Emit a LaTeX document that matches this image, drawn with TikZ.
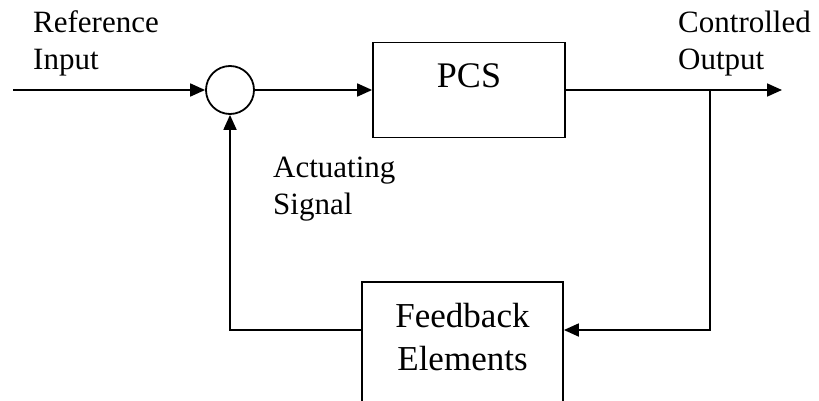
\documentclass[tikz,border=0pt]{standalone}
\usepackage{fontspec}
\setmainfont{Liberation Serif}
\usetikzlibrary{arrows.meta}
\tikzset{
  line/.style={line width=1.8pt},
  arr/.style={line, -{Triangle[length=15pt,width=13pt]}},
  blockbox/.style={draw, line width=1.8pt, rectangle, inner sep=0pt},
  lbl/.style={inner sep=0pt, anchor=base west, font=\fontsize{31}{37}\selectfont},
}
\begin{document}
\begin{tikzpicture}[x=1pt,y=-1pt]
\useasboundingbox (0,0) rectangle (819,401);
% nodes
\node[draw, circle, line width=1.8pt, minimum size=48pt, inner sep=0pt] (sum) at (230,90) {};
\node[blockbox, minimum width=192pt, minimum height=95pt, text height=25pt, text depth=30pt,
      font=\fontsize{36}{43}\selectfont] (pcs) at (469,90) {PCS};
\node[blockbox, minimum width=201pt, minimum height=124pt, text height=30pt, text depth=64pt,
      font=\fontsize{35}{43}\selectfont]
      (fb) at (462.5,344) {\begin{tabular}[t]{@{}c@{}}Feedback\\Elements\end{tabular}};
\coordinate (in) at (13,90);
\coordinate (out) at (782,90);
\coordinate (br) at (710,90);
% labels
\node[lbl] (ref) at (33,33) {\begin{tabular}[t]{@{}l@{}}Reference\\Input\end{tabular}};
\node[lbl] (ctl) at (678,33) {\begin{tabular}[t]{@{}l@{}}Controlled\\Output\end{tabular}};
\node[lbl] (act) at (273,177) {\begin{tabular}[t]{@{}l@{}}Actuating\\Signal\end{tabular}};
% connectors
\draw[arr] (in) -- (sum.west);
\draw[arr] (sum.east) -- (pcs.west);
\draw[arr] (pcs.east) -- (out);
\draw[arr] (br) |- ([yshift=14pt]fb.east);
\draw[arr] ([yshift=14pt]fb.west) -| (sum.south);
\end{tikzpicture}
\end{document}
